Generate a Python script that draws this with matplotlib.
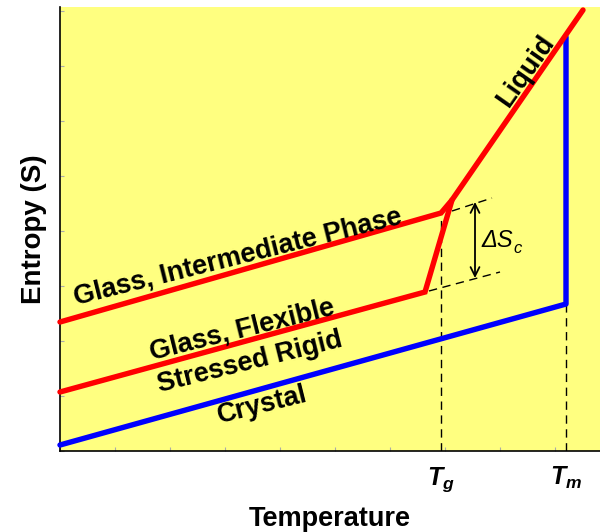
import matplotlib.pyplot as plt
from matplotlib.ticker import MultipleLocator

plt.rcParams['font.family'] = ['Liberation Sans', 'DejaVu Sans']
plt.rcParams['mathtext.fontset'] = 'custom'
plt.rcParams['mathtext.rm'] = 'Liberation Sans'
plt.rcParams['mathtext.it'] = 'Liberation Sans:italic'
plt.rcParams['mathtext.bf'] = 'Liberation Sans:bold:italic'

# schematic values (arbitrary units)
T_g = 381
T_m = 506

crystal_T = [0, 506, 506]
crystal_S = [6, 147, 414]

flexible_T = [0, 365, 392, 523]   # flexible glass, then the liquid branch
flexible_S = [59, 159, 251, 441]

intermediate_T = [0, 381, 392]
intermediate_S = [129, 238, 251]

upper_ext_T = [392, 432]
upper_ext_S = [240, 253]
lower_ext_T = [369, 440]
lower_ext_S = [160, 179]

arrow_T = 415
arrow_S = [173, 249]

fig = plt.figure(figsize=(6, 5.32), dpi=100)
ax = fig.add_axes([0.1, 81 / 532, 0.9, 444 / 532])
ax.set_facecolor('#ffff80')
ax.set_xlim(0, 540)
ax.set_ylim(0, 444)

ax.plot(crystal_T, crystal_S, color='#0000ff', lw=3.9, solid_capstyle='round', clip_on=False, zorder=3)
ax.plot(flexible_T, flexible_S, color='#ff0000', lw=3.9, solid_capstyle='round',
        solid_joinstyle='miter', clip_on=False, zorder=3)
ax.plot(intermediate_T, intermediate_S, color='#ff0000', lw=3.9, solid_capstyle='round',
        solid_joinstyle='miter', clip_on=False, zorder=3)

dash = dict(color='black', lw=1.0, dashes=(6, 4))
ax.plot([T_g, T_g], [0, intermediate_S[1] - 4], **dash)
ax.plot([T_m, T_m], [0, crystal_S[1]], **dash)
ax.plot(upper_ext_T, upper_ext_S, **dash)
ax.plot(lower_ext_T, lower_ext_S, **dash)

ax.annotate('', xy=(arrow_T, arrow_S[1]), xytext=(arrow_T, arrow_S[0]),
            arrowprops=dict(arrowstyle='<->', color='black', lw=1.3, mutation_scale=16,
                            shrinkA=0, shrinkB=0))
ds = ax.text(421, 204, 'ΔS', fontsize=17, style='italic', ha='left', va='baseline')
ax.annotate('c', xy=(1, 0), xycoords=ds, xytext=(0.5, -1), textcoords='offset points',
            fontsize=12, style='italic', ha='left', va='baseline')

lab = dict(fontsize=19.5, fontweight='bold', ha='center', va='center', rotation_mode='anchor')
ax.text(178, 194, 'Glass, Intermediate Phase', rotation=14, **lab)
ax.text(182, 121, 'Glass, Flexible', rotation=14, **lab)
ax.text(190, 89, 'Stressed Rigid', rotation=14, **lab)
ax.text(202, 46, 'Crystal', rotation=14, **lab)
ax.text(466, 380, 'Liquid', rotation=55, **lab)

for s in ['top', 'right']:
    ax.spines[s].set_visible(False)
for s in ['left', 'bottom']:
    ax.spines[s].set_linewidth(1.2)

ax.set_xticks([T_g, T_m])
ax.set_xticklabels([r'$\mathbf{T_g}$', r'$\mathbf{T_m}$'], fontsize=18)
ax.tick_params(axis='x', which='major', length=0, pad=10)
ax.set_yticks([])
ax.xaxis.set_minor_locator(MultipleLocator(55))
ax.yaxis.set_minor_locator(MultipleLocator(55))
ax.tick_params(which='minor', direction='in', length=3, color='#aaaaaa', width=0.8)

ax.set_xlabel('Temperature', fontsize=19.5, fontweight='bold', labelpad=9)
ax.set_ylabel('Entropy (S)', fontsize=20, fontweight='bold', labelpad=6)

fig.savefig('out.png', dpi=100)
